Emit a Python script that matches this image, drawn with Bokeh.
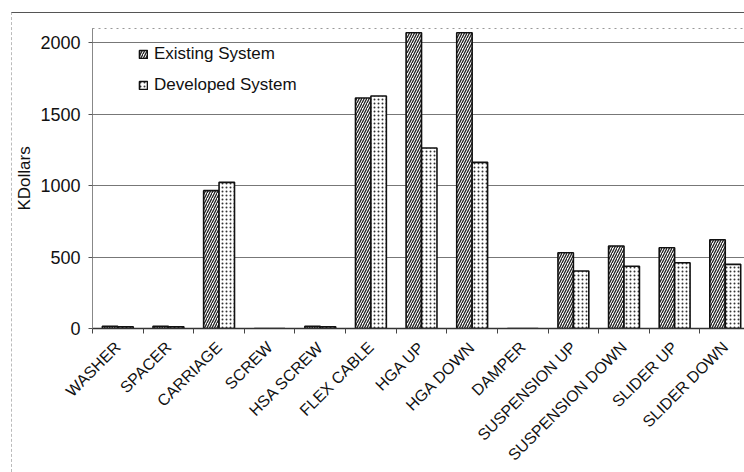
from bokeh.plotting import figure
from bokeh.models import (ColumnDataSource, Range1d, FixedTicker, Legend, LegendItem)
from bokeh.embed import file_html
from bokeh.resources import INLINE
import math

categories = ["WASHER", "SPACER", "CARRIAGE", "SCREW", "HSA SCREW", "FLEX CABLE",
              "HGA UP", "HGA DOWN", "DAMPER", "SUSPENSION UP", "SUSPENSION DOWN",
              "SLIDER UP", "SLIDER DOWN"]
existing = [15, 15, 965, 0, 15, 1613, 2070, 2070, 0, 530, 578, 565, 621]
developed = [12, 12, 1023, 0, 12, 1627, 1264, 1163, 0, 402, 436, 460, 449]
y_ticks = [0, 500, 1000, 1500, 2000]

FONT = "Liberation Sans"
BAR_W = 0.305
idx = list(range(len(categories)))

src = ColumnDataSource(dict(
    x_e=[i - BAR_W / 2 for i in idx],
    x_d=[i + BAR_W / 2 for i in idx],
    existing=existing,
    developed=developed,
))

p = figure(width=733, height=460, output_backend="svg", toolbar_location=None,
           x_range=Range1d(-0.5, 12.4), y_range=Range1d(0, 2100),
           min_border_left=78, min_border_top=15, min_border_right=0,
           min_border_bottom=145)
p.styles = {"margin-left": "11px", "margin-top": "12px",
            "border-top": "1px solid #555", "border-left": "1px dashed #bbb"}
p.background_fill_color = "white"
p.border_fill_color = "white"
p.outline_line_color = "#999"
p.outline_line_dash = "dotted"

r_e = p.vbar(x="x_e", top="existing", width=BAR_W, source=src,
             fill_color="white", line_color="#111", line_width=1.6,
             hatch_pattern="right_diagonal_line", hatch_color="#222",
             hatch_scale=5, hatch_weight=1.3)
r_d = p.vbar(x="x_d", top="developed", width=BAR_W, source=src,
             fill_color="white", line_color="#111", line_width=1.6,
             hatch_pattern="dot", hatch_color="#333",
             hatch_scale=4, hatch_weight=1.6)

# y axis
p.yaxis.ticker = FixedTicker(ticks=y_ticks, minor_ticks=[])
p.yaxis.axis_label = "KDollars"
p.yaxis.axis_label_text_font = FONT
p.yaxis.axis_label_text_font_size = "17px"
p.yaxis.axis_label_text_font_style = "normal"
p.yaxis.axis_label_text_color = "#111"
p.yaxis.axis_label_standoff = 3
p.yaxis.major_label_text_font = FONT
p.yaxis.major_label_text_font_size = "18px"
p.yaxis.major_label_text_color = "#111"
p.yaxis.major_label_standoff = 8
p.yaxis.major_tick_out = 4
p.yaxis.major_tick_in = 0
p.yaxis.axis_line_color = "#888"
p.yaxis.major_tick_line_color = "#555"

# x axis: labels at category centres, ticks at category boundaries
p.xaxis.ticker = FixedTicker(ticks=idx, minor_ticks=[i - 0.5 for i in range(len(categories) + 1)])
p.xaxis.major_label_overrides = {i: c for i, c in zip(idx, categories)}
p.xaxis.major_label_orientation = math.pi / 4
p.xaxis.major_label_text_font = FONT
p.xaxis.major_label_text_font_size = "16px"
p.xaxis.major_label_text_color = "#111"
p.xaxis.major_tick_out = 0
p.xaxis.major_tick_in = 0
p.xaxis.minor_tick_out = 5
p.xaxis.minor_tick_in = 0
p.xaxis.minor_tick_line_color = "#444"
p.xaxis.axis_line_color = "#333"
p.xaxis.axis_line_width = 1.5
p.xaxis.major_label_standoff = 11

p.xgrid.grid_line_color = None
p.ygrid.ticker = FixedTicker(ticks=y_ticks[1:])
p.ygrid.grid_line_color = "#777"
p.ygrid.grid_line_width = 1

legend = Legend(items=[LegendItem(label="Existing System", renderers=[r_e]),
                       LegendItem(label="Developed System", renderers=[r_d])],
                location=(46, 233), glyph_width=10, glyph_height=10,
                label_height=20, spacing=11, padding=8, label_standoff=6,
                label_text_font=FONT, label_text_font_size="17px",
                label_text_color="#111", border_line_color=None,
                background_fill_color="white", background_fill_alpha=1)
p.add_layout(legend)

open("out.html", "w").write(file_html(p, INLINE))
